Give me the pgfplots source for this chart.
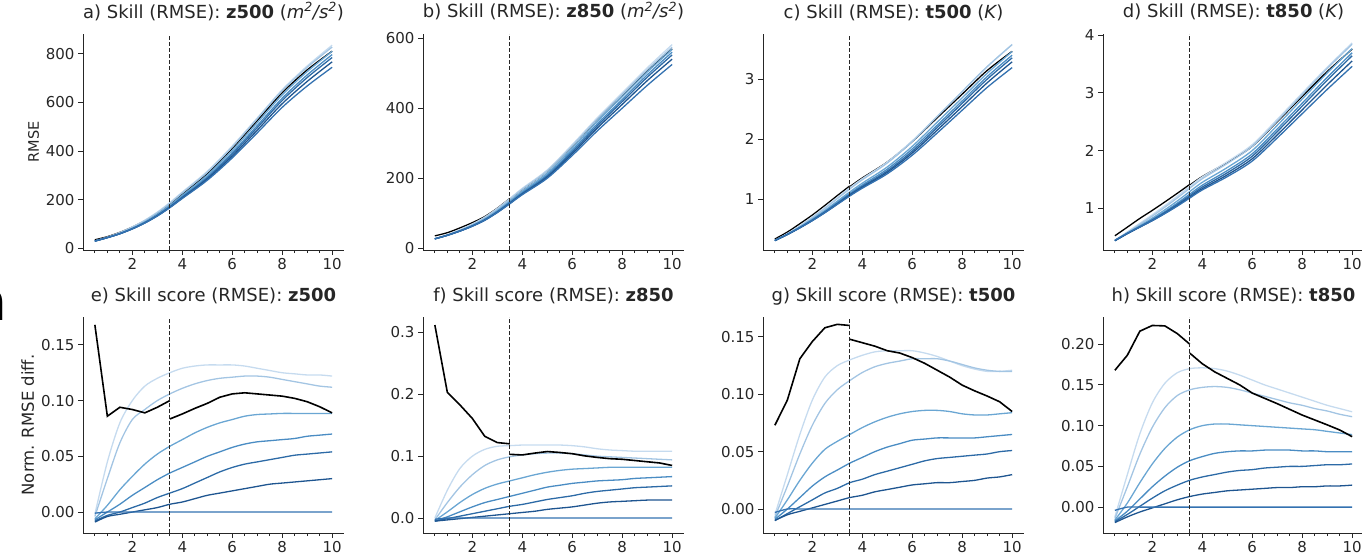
\documentclass[border=0pt]{standalone}
\usepackage{fontspec}
\setmainfont{DejaVu Sans}
\usepackage{pgfplots}
\pgfplotsset{compat=1.18}
\usepackage{pgfplotstable}

\definecolor{b1}{HTML}{C6DBEF}
\definecolor{b2}{HTML}{A3C5E3}
\definecolor{b3}{HTML}{6AA6D3}
\definecolor{b4}{HTML}{4A8CC3}
\definecolor{b5}{HTML}{2C6AA6}
\definecolor{b6}{HTML}{1E5590}
\definecolor{b7}{HTML}{3371B0}
\definecolor{axgray}{HTML}{262626}

\pgfplotsset{
  panel/.style={
    scale only axis, width=261pt, height=216pt,
    xmin=0.025, xmax=10.475,
    axis x line*=bottom, axis y line*=left,
    axis line style={-, line width=1pt, axgray},
    xtick={2,4,6,8,10}, minor xtick={0.5,1,...,10},
    tick align=outside, major tick length=5pt, minor tick length=3pt,
    tick style={axgray, line width=1pt},
    tick label style={font=\fontsize{15}{15}\selectfont, text=axgray},
    /pgf/number format/assume math mode=true,
    title style={font=\fontsize{18}{18}\selectfont, text=axgray,
      anchor=base, at={(0.5,1)}, yshift=10pt},
    ylabel style={font=\fontsize{14.5}{14.5}\selectfont, text=axgray},
  },
  dec/.style={yticklabel style={/pgf/number format/.cd, fixed, fixed zerofill, precision=#1}},
  bl/.style={b#1, line width=1.3pt, smooth},
  blk/.style={black, line width=1.6pt},
  blkt/.style={black, line width=1.3pt, smooth},
  vl/.style={black!85, line width=1.2pt, dash pattern=on 4pt off 2pt},
}

% RMSE, lines l1 (lightest) ... l7 (darkest)
\pgfplotstableread{
x l1 l2 l3 l4 l5 l6 l7
0.5 29.9 29.9 29.8 29.8 29.8 29.7 30
1.0 46.0 45.3 44.3 44.0 43.9 43.8 44
1.5 64.8 63.7 61.2 60.4 60.0 59.9 60
2.0 88.0 86.6 82.6 81.2 80.3 80.0 80
2.5 115.8 113.6 108.5 106.3 104.8 104.2 104
3.0 149.0 146.3 139.9 136.9 134.7 133.5 133
3.5 187.9 184.7 176.9 172.8 169.8 168.2 167
4.0 231.4 227.8 218.3 213.2 209.3 206.8 205
5.0 317.0 313.0 301.3 294.0 288.7 284.2 280
6.0 421.1 417.0 402.9 393.6 386.9 379.1 372
7.0 536.3 533.0 516.6 504.9 496.4 485.9 475
8.0 652.5 649.0 631.3 617.7 608.4 595.1 580
9.0 750.2 744.8 727.1 713.4 702.7 686.7 668
10.0 835.9 828.4 810.9 797.2 785.2 767.4 745
}\ta
\pgfplotstableread{
x l1 l2 l3 l4 l5 l6 l7
0.5 27.0 26.9 26.9 26.9 26.9 26.9 27
1.0 38.7 37.9 37.4 37.1 37.0 36.9 37
1.5 52.9 51.5 50.2 49.5 49.1 49.0 49
2.0 69.3 67.4 65.4 64.1 63.4 63.1 63
2.5 88.9 86.8 83.8 82.0 80.9 80.2 80
3.0 113.8 111.6 107.6 105.1 103.5 102.5 102
3.5 141.9 139.6 134.6 131.4 129.4 127.9 127
4.0 171.1 168.6 162.9 159.1 156.4 154.4 153
5.0 223.6 221.0 214.8 210.0 206.0 202.8 200
6.0 296.0 292.6 285.9 279.8 274.5 269.8 265
7.0 372.5 368.5 362.1 355.1 349.4 343.0 335
8.0 443.6 439.2 432.8 424.8 418.8 410.8 400
9.0 515.2 509.6 503.1 495.2 488.3 478.5 465
10.0 581.7 574.4 568.1 560.2 552.3 540.2 525
}\tb
\pgfplotstableread{
x l1 l2 l3 l4 l5 l6 l7
0.5 0.308 0.308 0.308 0.307 0.307 0.307 0.31
1.0 0.422 0.418 0.413 0.410 0.408 0.408 0.41
1.5 0.554 0.545 0.533 0.525 0.521 0.519 0.52
2.0 0.701 0.687 0.666 0.653 0.645 0.641 0.64
2.5 0.859 0.841 0.810 0.792 0.781 0.773 0.77
3.0 1.024 1.005 0.964 0.941 0.926 0.916 0.91
3.5 1.187 1.168 1.118 1.092 1.074 1.061 1.05
4.0 1.338 1.320 1.264 1.233 1.211 1.194 1.18
5.0 1.616 1.600 1.534 1.497 1.467 1.444 1.42
6.0 1.969 1.957 1.877 1.834 1.797 1.766 1.73
7.0 2.379 2.375 2.281 2.230 2.192 2.148 2.10
8.0 2.790 2.792 2.686 2.634 2.594 2.540 2.48
9.0 3.203 3.206 3.095 3.040 2.997 2.937 2.86
10.0 3.576 3.573 3.458 3.397 3.353 3.286 3.19
}\tc
\pgfplotstableread{
x l1 l2 l3 l4 l5 l6 l7
0.5 0.445 0.444 0.443 0.442 0.442 0.441 0.45
1.0 0.593 0.584 0.573 0.567 0.565 0.563 0.57
1.5 0.741 0.724 0.700 0.687 0.681 0.676 0.68
2.0 0.891 0.867 0.832 0.810 0.799 0.789 0.79
2.5 1.048 1.021 0.976 0.945 0.928 0.914 0.91
3.0 1.212 1.182 1.129 1.091 1.068 1.049 1.04
3.5 1.381 1.350 1.292 1.247 1.219 1.195 1.18
4.0 1.546 1.514 1.452 1.402 1.369 1.341 1.32
5.0 1.809 1.778 1.708 1.655 1.617 1.581 1.55
6.0 2.104 2.075 2.002 1.946 1.904 1.860 1.82
7.0 2.542 2.513 2.438 2.375 2.329 2.273 2.22
8.0 2.996 2.970 2.893 2.822 2.772 2.706 2.64
9.0 3.443 3.421 3.345 3.268 3.219 3.140 3.06
10.0 3.865 3.844 3.768 3.695 3.643 3.553 3.46
}\td

% skill scores
\pgfplotstableread{
x l1 l2 l3 l4 l5 l6 l7
0.5 -0.002 -0.004 -0.006 -0.007 -0.008 -0.009 -0.001
1.0 0.045 0.030 0.006 0.000 -0.003 -0.004 0
1.5 0.080 0.062 0.020 0.007 0.000 -0.002 0
2.0 0.100 0.083 0.032 0.015 0.004 0.000 0
2.5 0.113 0.092 0.043 0.022 0.008 0.002 0
3.0 0.120 0.100 0.052 0.029 0.013 0.004 0
3.5 0.125 0.106 0.059 0.035 0.017 0.007 0
4.0 0.129 0.111 0.065 0.040 0.021 0.009 0
4.5 0.131 0.115 0.071 0.045 0.026 0.012 0
5.0 0.132 0.118 0.076 0.050 0.031 0.015 0
5.5 0.132 0.120 0.080 0.054 0.036 0.017 0
6.0 0.132 0.121 0.083 0.058 0.040 0.019 0
6.5 0.131 0.122 0.086 0.061 0.043 0.021 0
7.0 0.129 0.122 0.0875 0.063 0.045 0.023 0
7.5 0.127 0.121 0.088 0.064 0.047 0.025 0
8.0 0.125 0.119 0.0885 0.065 0.049 0.026 0
8.5 0.124 0.117 0.0885 0.066 0.051 0.027 0
9.0 0.123 0.115 0.0885 0.068 0.052 0.028 0
9.5 0.123 0.113 0.0885 0.069 0.053 0.029 0
10.0 0.122 0.112 0.0885 0.070 0.054 0.030 0
}\te
\pgfplotstableread{
x l1 l2 l3 l4 l5 l6 l7
0.5 0.000 -0.003 -0.004 -0.005 -0.005 -0.005 -0.002
1.0 0.045 0.025 0.010 0.002 -0.001 -0.003 0
1.5 0.080 0.050 0.025 0.010 0.003 -0.001 0
2.0 0.100 0.070 0.038 0.018 0.007 0.001 0
2.5 0.111 0.085 0.048 0.025 0.011 0.003 0
3.0 0.116 0.094 0.055 0.030 0.015 0.005 0
3.5 0.117 0.099 0.060 0.035 0.019 0.007 0
4.0 0.118 0.102 0.065 0.040 0.022 0.009 0
4.5 0.118 0.104 0.070 0.045 0.026 0.011 0
5.0 0.118 0.105 0.074 0.050 0.030 0.014 0
5.5 0.118 0.105 0.077 0.053 0.033 0.016 0
6.0 0.117 0.104 0.079 0.056 0.036 0.018 0
6.5 0.115 0.102 0.080 0.058 0.040 0.021 0
7.0 0.112 0.100 0.081 0.060 0.043 0.024 0
7.5 0.110 0.099 0.082 0.061 0.045 0.026 0
8.0 0.109 0.098 0.082 0.062 0.047 0.027 0
8.5 0.108 0.097 0.082 0.064 0.049 0.028 0
9.0 0.108 0.096 0.082 0.065 0.050 0.029 0
9.5 0.108 0.095 0.082 0.066 0.051 0.029 0
10.0 0.108 0.094 0.082 0.067 0.052 0.029 0
}\tf
\pgfplotstableread{
x l1 l2 l3 l4 l5 l6 l7
0.5 -0.005 -0.007 -0.008 -0.009 -0.010 -0.010 -0.003
1.0 0.030 0.020 0.008 0.000 -0.004 -0.005 0
1.5 0.065 0.048 0.025 0.010 0.002 -0.002 0
2.0 0.095 0.073 0.040 0.020 0.008 0.001 0
2.5 0.115 0.092 0.052 0.028 0.014 0.004 0
3.0 0.125 0.104 0.059 0.034 0.018 0.007 0
3.5 0.130 0.112 0.065 0.040 0.023 0.010 0
4.0 0.134 0.119 0.071 0.045 0.026 0.012 0
4.5 0.137 0.124 0.076 0.050 0.030 0.015 0
5.0 0.138 0.127 0.080 0.054 0.033 0.017 0
5.5 0.138 0.129 0.083 0.057 0.036 0.019 0
6.0 0.138 0.131 0.085 0.060 0.039 0.021 0
6.5 0.136 0.131 0.086 0.061 0.042 0.022 0
7.0 0.133 0.131 0.086 0.062 0.044 0.023 0
7.5 0.129 0.129 0.085 0.062 0.045 0.023 0
8.0 0.125 0.126 0.083 0.062 0.046 0.024 0
8.5 0.122 0.123 0.082 0.062 0.047 0.025 0
9.0 0.120 0.121 0.082 0.063 0.048 0.027 0
9.5 0.120 0.120 0.083 0.064 0.050 0.028 0
10.0 0.121 0.120 0.084 0.065 0.051 0.030 0
}\tg
\pgfplotstableread{
x l1 l2 l3 l4 l5 l6 l7
0.5 -0.012 -0.014 -0.016 -0.017 -0.018 -0.019 -0.004
1.0 0.040 0.025 0.005 -0.005 -0.009 -0.012 0
1.5 0.090 0.065 0.030 0.010 0.001 -0.006 0
2.0 0.128 0.098 0.053 0.025 0.011 -0.001 0
2.5 0.152 0.122 0.072 0.038 0.020 0.004 0
3.0 0.165 0.137 0.086 0.049 0.027 0.009 0
3.5 0.170 0.144 0.095 0.057 0.033 0.013 0
4.0 0.171 0.147 0.100 0.062 0.037 0.016 0
4.5 0.170 0.148 0.102 0.066 0.040 0.018 0
5.0 0.167 0.147 0.102 0.068 0.043 0.020 0
5.5 0.162 0.144 0.101 0.069 0.045 0.021 0
6.0 0.156 0.140 0.100 0.069 0.046 0.022 0
6.5 0.150 0.136 0.099 0.070 0.048 0.023 0
7.0 0.145 0.132 0.098 0.070 0.049 0.024 0
7.5 0.140 0.128 0.097 0.070 0.050 0.024 0
8.0 0.135 0.125 0.096 0.069 0.050 0.025 0
8.5 0.130 0.121 0.095 0.069 0.051 0.025 0
9.0 0.125 0.118 0.093 0.068 0.052 0.026 0
9.5 0.121 0.114 0.091 0.068 0.052 0.026 0
10.0 0.117 0.111 0.089 0.068 0.053 0.027 0
}\th

\begin{document}
\begin{tikzpicture}
\node[anchor=base east, inner sep=0pt, font=\fontsize{54}{54}\selectfont\bfseries] at (7pt,-320pt) {n};

% ---- top row: RMSE ----
\begin{axis}[panel, at={(83pt,-250pt)}, anchor=south west,
  ymin=-7, ymax=882, ytick={0,200,400,600,800}, ylabel={RMSE},
  title={a) Skill (RMSE): \textbf{z500} ({\itshape m\textsuperscript{2}/s\textsuperscript{2}})}]
\addplot[blkt] coordinates {(0.5,35.0) (1,47.8) (1.5,65.6) (2,87.4) (2.5,113.3) (3,145.5) (3.5,183.7)};
\addplot[blkt] coordinates {(3.5,180.9) (4,223.0) (5,307.3) (6,411.4) (7,525.4) (8,640.3) (9,734.1) (10,811.3)};
\pgfplotsinvokeforeach{1,...,7}{\addplot[bl=#1] table[x=x,y=l#1]{\ta};}
\addplot[vl] coordinates {(3.5,-7) (3.5,882)};
\end{axis}

\begin{axis}[panel, at={(423pt,-250pt)}, anchor=south west,
  ymin=-5, ymax=612, ytick={0,200,400,600},
  title={b) Skill (RMSE): \textbf{z850} ({\itshape m\textsuperscript{2}/s\textsuperscript{2}})}]
\addplot[blkt] coordinates {(0.5,35.4) (1,44.5) (1.5,58.0) (2,73.1) (2.5,90.6) (3,114.4) (3.5,142.2)};
\addplot[blkt] coordinates {(3.5,140.1) (4,168.6) (5,221.5) (6,292.6) (7,367.8) (8,438.0) (9,507.3) (10,569.6)};
\pgfplotsinvokeforeach{1,...,7}{\addplot[bl=#1] table[x=x,y=l#1]{\tb};}
\addplot[vl] coordinates {(3.5,-5) (3.5,612)};
\end{axis}

\begin{axis}[panel, at={(763pt,-250pt)}, anchor=south west,
  ymin=0.15, ymax=3.75, ytick={1,2,3},
  title={c) Skill (RMSE): \textbf{t500} ({\itshape K})}]
\addplot[blkt] coordinates {(0.5,0.333) (1,0.449) (1.5,0.588) (2,0.733) (2.5,0.892) (3,1.057) (3.5,1.218)};
\addplot[blkt] coordinates {(3.5,1.205) (4,1.351) (5,1.616) (6,1.958) (7,2.354) (8,2.748) (9,3.142) (10,3.461)};
\pgfplotsinvokeforeach{1,...,7}{\addplot[bl=#1] table[x=x,y=l#1]{\tc};}
\addplot[vl] coordinates {(3.5,0.15) (3.5,3.75)};
\end{axis}

\begin{axis}[panel, at={(1103pt,-250pt)}, anchor=south west,
  ymin=0.28, ymax=4.02, ytick={1,2,3,4},
  title={d) Skill (RMSE): \textbf{t850} ({\itshape K})}]
\addplot[blkt] coordinates {(0.5,0.526) (1,0.676) (1.5,0.827) (2,0.966) (2.5,1.112) (3,1.262) (3.5,1.416)};
\addplot[blkt] coordinates {(3.5,1.403) (4,1.552) (5,1.795) (6,2.075) (7,2.502) (8,2.938) (9,3.369) (10,3.759)};
\pgfplotsinvokeforeach{1,...,7}{\addplot[bl=#1] table[x=x,y=l#1]{\td};}
\addplot[vl] coordinates {(3.5,0.28) (3.5,4.02)};
\end{axis}

% ---- bottom row: skill scores ----
\begin{axis}[panel, dec=2, at={(83pt,-533pt)}, anchor=south west,
  ymin=-0.0188, ymax=0.175, ytick={0,0.05,0.10,0.15}, ylabel={Norm. RMSE diff.},
  ylabel style={font=\fontsize{16.5}{16.5}\selectfont},
  title={e) Skill score (RMSE): \textbf{z500}}]
\pgfplotsinvokeforeach{1,...,7}{\addplot[bl=#1] table[x=x,y=l#1]{\te};}
\addplot[blk] coordinates {(0.5,0.168) (1,0.086) (1.5,0.094) (2,0.092) (2.5,0.089) (3,0.094) (3.5,0.100)};
\addplot[blk] coordinates {(3.5,0.0835) (4,0.088) (4.5,0.093) (5,0.0975) (5.5,0.103) (6,0.106) (6.5,0.107) (7,0.106) (7.5,0.105) (8,0.104) (8.5,0.102) (9,0.099) (9.5,0.0945) (10,0.089)};
\addplot[vl] coordinates {(3.5,-0.0188) (3.5,0.175)};
\end{axis}

\begin{axis}[panel, dec=1, at={(423pt,-533pt)}, anchor=south west,
  ymin=-0.0242, ymax=0.325, ytick={0,0.1,0.2,0.3},
  title={f) Skill score (RMSE): \textbf{z850}}]
\pgfplotsinvokeforeach{1,...,7}{\addplot[bl=#1] table[x=x,y=l#1]{\tf};}
\addplot[blk] coordinates {(0.5,0.312) (1,0.203) (1.5,0.183) (2,0.161) (2.5,0.132) (3,0.122) (3.5,0.120)};
\addplot[blk] coordinates {(3.5,0.103) (4,0.102) (4.5,0.105) (5,0.1075) (5.5,0.106) (6,0.104) (6.5,0.1005) (7,0.098) (7.5,0.096) (8,0.095) (8.5,0.093) (9,0.091) (9.5,0.089) (10,0.085)};
\addplot[vl] coordinates {(3.5,-0.0242) (3.5,0.325)};
\end{axis}

\begin{axis}[panel, dec=2, at={(763pt,-533pt)}, anchor=south west,
  ymin=-0.0209, ymax=0.1674, ytick={0,0.05,0.10,0.15},
  title={g) Skill score (RMSE): \textbf{t500}}]
\pgfplotsinvokeforeach{1,...,7}{\addplot[bl=#1] table[x=x,y=l#1]{\tg};}
\addplot[blk] coordinates {(0.5,0.073) (1,0.095) (1.5,0.131) (2,0.146) (2.5,0.158) (3,0.161) (3.5,0.160)};
\addplot[blk] coordinates {(3.5,0.148) (4,0.145) (4.5,0.142) (5,0.138) (5.5,0.136) (6,0.132) (6.5,0.127) (7,0.121) (7.5,0.115) (8,0.108) (8.5,0.103) (9,0.0985) (9.5,0.0935) (10,0.085)};
\addplot[vl] coordinates {(3.5,-0.0209) (3.5,0.1674)};
\end{axis}

\begin{axis}[panel, dec=2, at={(1103pt,-533pt)}, anchor=south west,
  ymin=-0.0318, ymax=0.2334, ytick={0,0.05,0.10,0.15,0.20},
  title={h) Skill score (RMSE): \textbf{t850}}]
\pgfplotsinvokeforeach{1,...,7}{\addplot[bl=#1] table[x=x,y=l#1]{\th};}
\addplot[blk] coordinates {(0.5,0.168) (1,0.1865) (1.5,0.216) (2,0.223) (2.5,0.2225) (3,0.213) (3.5,0.200)};
\addplot[blk] coordinates {(3.5,0.189) (4,0.176) (4.5,0.166) (5,0.158) (5.5,0.150) (6,0.140) (6.5,0.1335) (7,0.127) (7.5,0.120) (8,0.113) (8.5,0.107) (9,0.101) (9.5,0.0947) (10,0.0865)};
\addplot[vl] coordinates {(3.5,-0.0318) (3.5,0.2334)};
\end{axis}

\pgfresetboundingbox
\path[use as bounding box] (0pt,0pt) rectangle (1362pt,-559pt);
\end{tikzpicture}
\end{document}
